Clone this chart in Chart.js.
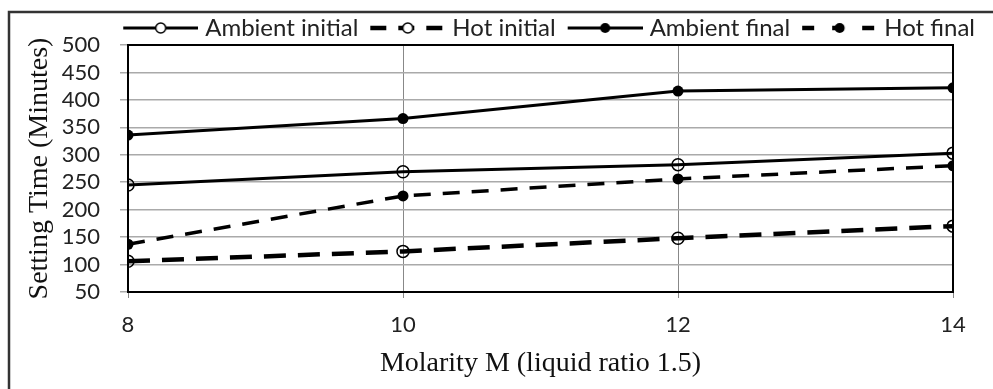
<!DOCTYPE html>
<html><head><meta charset="utf-8">
<script src="https://cdn.jsdelivr.net/npm/chart.js@4/dist/chart.umd.min.js"></script>
<style>html,body{margin:0;padding:0;background:#fff}#wrap{width:993px;height:389px;position:relative}</style>
</head><body><div id="wrap"><canvas id="c" width="993" height="389"></canvas></div>
<script>
const molarity = [8, 10, 12, 14];
const ambientInitial = [245, 269, 282, 303];
const hotInitial = [106, 124, 148, 170];
const ambientFinal = [336, 366, 416, 422];
const hotFinal = [137, 225, 256, 280];
const seriesNames = ["Ambient initial", "Hot initial", "Ambient final", "Hot final"];
const yTicks = [50, 100, 150, 200, 250, 300, 350, 400, 450, 500];
const xTicks = [8, 10, 12, 14];

const BOX = 81;
function legendIcon(dash, lw, filled, r) {
  const c = document.createElement('canvas');
  const W = BOX + 10, L = 16;
  c.width = W; c.height = 20;
  const g = c.getContext('2d');
  g.strokeStyle = '#000'; g.lineWidth = lw; g.setLineDash(dash);
  g.beginPath(); g.moveTo(L, 10); g.lineTo(W, 10); g.stroke();
  g.setLineDash([]);
  const cx = (L + W) / 2;
  g.beginPath(); g.arc(cx, 10, r, 0, Math.PI * 2);
  if (filled) { g.fillStyle = '#000'; g.fill(); }
  else { g.fillStyle = '#fff'; g.fill(); g.lineWidth = 1.5; g.stroke(); }
  return c;
}
const icons = [
  legendIcon([], 3, false, 5),
  legendIcon([16, 12], 4.5, false, 5),
  legendIcon([], 3, true, 5),
  legendIcon([12, 18], 4.5, true, 5)
];

const toPts = arr => arr.map((v, i) => ({x: molarity[i], y: v}));

const frame = {
  id: 'frame',
  afterDraw(chart) {
    const ctx = chart.ctx, a = chart.chartArea;
    ctx.save();
    ctx.strokeStyle = '#000'; ctx.lineWidth = 2;
    ctx.strokeRect(a.left, a.top, a.right - a.left, a.bottom - a.top);
    ctx.strokeStyle = '#333'; ctx.lineWidth = 2.5;
    ctx.strokeRect(9, 12, 1000, 400);
    ctx.restore();
  }
};

new Chart(document.getElementById('c'), {
  type: 'line',
  data: {
    datasets: [
      {label: seriesNames[0], data: toPts(ambientInitial), borderColor: '#000', borderWidth: 3,
       pointStyle: 'circle', pointRadius: 6, pointBorderWidth: 1.5, pointBackgroundColor: 'rgba(0,0,0,0)', pointBorderColor: '#000'},
      {label: seriesNames[1], data: toPts(hotInitial), borderColor: '#000', borderWidth: 4.5, borderDash: [22, 12],
       pointStyle: 'circle', pointRadius: 6, pointBorderWidth: 1.5, pointBackgroundColor: 'rgba(0,0,0,0)', pointBorderColor: '#000'},
      {label: seriesNames[2], data: toPts(ambientFinal), borderColor: '#000', borderWidth: 3,
       pointStyle: 'circle', pointRadius: 5.5, pointBorderWidth: 0, pointBackgroundColor: '#000', pointBorderColor: '#000'},
      {label: seriesNames[3], data: toPts(hotFinal), borderColor: '#000', borderWidth: 3.5, borderDash: [17, 12],
       pointStyle: 'circle', pointRadius: 5.5, pointBorderWidth: 0, pointBackgroundColor: '#000', pointBorderColor: '#000'}
    ]
  },
  options: {
    responsive: false,
    animation: false,
    layout: {padding: {left: 10, right: 17, top: 15, bottom: 0}},
    plugins: {
      tooltip: {enabled: false},
      legend: {
        position: 'top',
        align: 'end',
        maxHeight: 30,
        labels: {
          color: '#222',
          font: {family: 'Lato', size: 24},
          usePointStyle: true,
          pointStyleWidth: BOX,
          boxHeight: 20,
          padding: 1,
          generateLabels(chart) {
            return chart.data.datasets.map((d, i) => ({
              text: d.label, pointStyle: icons[i], fillStyle: '#000', strokeStyle: '#000',
              lineWidth: 0, hidden: false, datasetIndex: i, fontColor: '#222'
            }));
          }
        }
      }
    },
    scales: {
      x: {
        type: 'linear', min: 8, max: 14,
        afterBuildTicks(s) { s.ticks = xTicks.map(v => ({value: v})); },
        afterFit(s) { s.height = 97; },
        grid: {color: '#888', lineWidth: 1, tickLength: 6, drawTicks: true},
        border: {display: false},
        ticks: {color: '#222', font: {family: 'Lato', size: 22}, padding: 14, autoSkip: false, maxRotation: 0},
        title: {display: true, text: 'Molarity M (liquid ratio 1.5)', color: '#111',
                font: {family: 'Liberation Serif', size: 28}, padding: {top: 8, bottom: 9}}
      },
      y: {
        min: 50, max: 500,
        afterBuildTicks(s) { s.ticks = yTicks.map(v => ({value: v})); },
        afterFit(s) { s.width = 118; },
        grid: {color: '#aaa', lineWidth: 1.5, tickLength: 8, drawTicks: true},
        border: {display: false},
        ticks: {color: '#222', font: {family: 'Lato', size: 22}, padding: 20, autoSkip: false},
        title: {display: true, text: 'Setting Time (Minutes)', color: '#111',
                font: {family: 'Liberation Serif', size: 28}, padding: {top: 13, bottom: 0}}
      },
      yRight: {
        position: 'right', min: 50, max: 500,
        afterFit(s) { s.width = 23; },
        grid: {drawOnChartArea: false, drawTicks: false},
        border: {display: false},
        ticks: {display: false}
      }
    }
  },
  plugins: [frame]
});
</script></body></html>
